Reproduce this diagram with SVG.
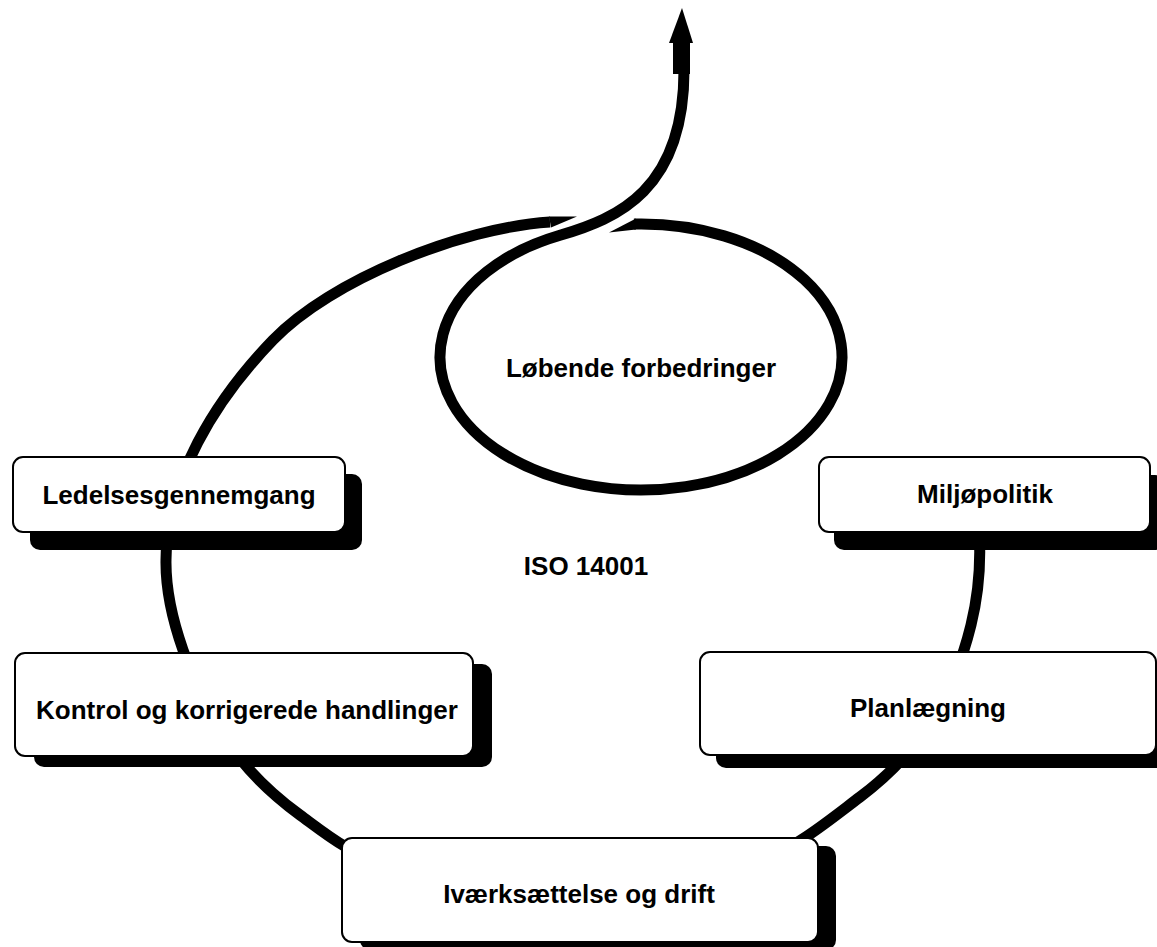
<svg xmlns="http://www.w3.org/2000/svg" width="1157" height="947" viewBox="0 0 1157 947">
  <style>
    .loop { fill: none; stroke: #000; stroke-width: 11; stroke-linejoin: round; }
    .tip { fill: #000; stroke: none; }
    .shadow { fill: #000; stroke: none; }
    .box { fill: #fff; stroke: #000; stroke-width: 2; }
    .label { font-family: "Liberation Sans", Arial, sans-serif; font-weight: bold; font-size: 26px; fill: #000; text-anchor: middle; }
  </style>
  <rect width="1157" height="947" fill="#fff"/>

  <!-- the cycle, the inner improvement spiral and the exit arrow -->
  <g id="connectors">
    <path id="outer-loop" class="loop" d="M 979,530 C 981,560 978.8,593.3 971,625 C 963.2,656.7 950.2,690.8 932,720 C 913.8,749.2 888,776 860,797 C 832,818 800,845 760,862 C 711,882 630.8,893.7 570,895 C 509.2,896.3 440,881.3 395,868 C 350,854.7 327.2,835 300,815 C 272.8,795 251.5,775.5 232,748 C 212.5,720.5 194,681.3 183,650 C 172,618.7 165.5,590.8 166,560 C 166,480 215,400 273,340 C 331,280 460,228 550,222"/>
    <polygon class="tip" points="549,216.6 551,227.4 577,216.5"/>
    <path id="inner-spiral" class="loop" d="M 634,224.1 A 201 133 0 1 1 560,235.3 C 617.6,218.5 684,190 684,70"/>
    <polygon class="tip" points="636,218.6 636,229.6 609,232.5"/>
    <rect class="tip" x="673" y="42" width="17" height="32"/>
    <polygon class="tip" points="682,8 693,43 669,43"/>
  </g>

  <g id="node-loebende">
    <text class="label" x="641" y="377">Løbende forbedringer</text>
  </g>

  <g id="node-iso">
    <text class="label" x="586" y="575">ISO 14001</text>
  </g>

  <g id="node-ledelse">
    <rect class="shadow" x="30" y="474" width="332" height="76" rx="10"/>
    <rect class="box" x="13" y="457" width="332" height="75" rx="10"/>
    <text class="label" x="179" y="504">Ledelsesgennemgang</text>
  </g>

  <g id="node-miljoepolitik">
    <rect class="shadow" x="834" y="475" width="331" height="75" rx="10"/>
    <rect class="box" x="819" y="457" width="331" height="75" rx="10"/>
    <text class="label" x="985" y="503">Miljøpolitik</text>
  </g>

  <g id="node-kontrol">
    <rect class="shadow" x="34" y="664" width="458" height="103" rx="10"/>
    <rect class="box" x="15" y="653" width="458" height="103" rx="10"/>
    <text class="label" x="247" y="719">Kontrol og korrigerede handlinger</text>
  </g>

  <g id="node-planlaegning">
    <rect class="shadow" x="716" y="665" width="460" height="103" rx="10"/>
    <rect class="box" x="700" y="652" width="456" height="103" rx="10"/>
    <text class="label" x="928" y="717">Planlægning</text>
  </g>

  <g id="node-ivaerksaettelse">
    <rect class="shadow" x="360" y="846" width="476" height="104" rx="10"/>
    <rect class="box" x="342" y="838" width="476" height="104" rx="10"/>
    <text class="label" x="579" y="903">Iværksættelse og drift</text>
  </g>
</svg>
